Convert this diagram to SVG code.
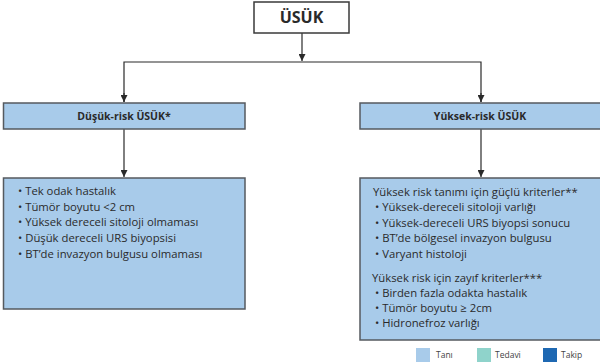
<svg xmlns="http://www.w3.org/2000/svg" width="600" height="364" viewBox="0 0 600 364">
<style>
.box{fill:#a8cbea;stroke:#555a5f;stroke-width:1.5}
.top{fill:#fff;stroke:#3a3a3a;stroke-width:1.5}
.t{font-family:"Open Sans","Liberation Sans",sans-serif;font-size:11.3px;fill:#2a2a2a}
.h{font-family:"Open Sans","Liberation Sans",sans-serif;font-size:10.5px;font-weight:bold;fill:#2a2a2a;text-anchor:middle}
.lg{font-family:"Open Sans","Liberation Sans",sans-serif;font-size:8.5px;fill:#444}
.c{fill:none;stroke:#2a2a2a;stroke-width:1.2}
</style>
<defs>
<marker id="ar" viewBox="0 0 10 10" refX="10" refY="5" markerWidth="7" markerHeight="7" markerUnits="userSpaceOnUse" orient="auto">
<path d="M0,0 L10,5 L0,10 z" fill="#2a2a2a"/>
</marker>
</defs>
<g id="connectors">
<line class="c" x1="302" y1="33" x2="302" y2="61" marker-end="url(#ar)"/>
<polyline class="c" points="124,102 124,62 481,62 481,102" fill="none"/>
<line class="c" x1="124" y1="93" x2="124" y2="102" marker-end="url(#ar)"/>
<line class="c" x1="481" y1="93" x2="481" y2="102" marker-end="url(#ar)"/>
<line class="c" x1="124" y1="129" x2="124" y2="177" marker-end="url(#ar)"/>
<line class="c" x1="481" y1="129" x2="481" y2="177" marker-end="url(#ar)"/>
</g>
<g id="usuk">
<rect class="top" x="254" y="2" width="95" height="31"/>
<text class="h" x="301.5" y="23" style="font-size:16px">ÜSÜK</text>
</g>
<g id="dusuk-risk">
<rect class="box" x="3.5" y="103" width="241.5" height="26"/>
<text class="h" x="124" y="120">Düşük-risk ÜSÜK*</text>
</g>
<g id="yuksek-risk">
<rect class="box" x="360" y="103" width="242" height="26"/>
<text class="h" x="480" y="120">Yüksek-risk ÜSÜK</text>
</g>
<g id="dusuk-kriter">
<rect class="box" x="3.5" y="178" width="241.5" height="131"/>
<text class="t" x="18" y="195">• Tek odak hastalık</text>
<text class="t" x="18" y="210.7">• Tümör boyutu &lt;2 cm</text>
<text class="t" x="18" y="226.3">• Yüksek dereceli sitoloji olmaması</text>
<text class="t" x="18" y="242">• Düşük dereceli URS biyopsisi</text>
<text class="t" x="18" y="257.5">• BT’de invazyon bulgusu olmaması</text>
</g>
<g id="yuksek-kriter">
<rect class="box" x="360" y="178" width="242" height="162"/>
<text class="t" x="373" y="196">Yüksek risk tanımı için güçlü kriterler**</text>
<text class="t" x="375" y="211">• Yüksek-dereceli sitoloji varlığı</text>
<text class="t" x="375" y="226.5">• Yüksek-dereceli URS biyopsi sonucu</text>
<text class="t" x="375" y="242">• BT’de bölgesel invazyon bulgusu</text>
<text class="t" x="375" y="257.5">• Varyant histoloji</text>
<text class="t" x="372" y="281.5">Yüksek risk için zayıf kriterler***</text>
<text class="t" x="375" y="297">• Birden fazla odakta hastalık</text>
<text class="t" x="375" y="312">• Tümör boyutu ≥ 2cm</text>
<text class="t" x="375" y="327">• Hidronefroz varlığı</text>
</g>
<g id="legend">
<rect x="416" y="348" width="14" height="14" fill="#a8cbea"/>
<text class="lg" x="436" y="358">Tanı</text>
<rect x="477" y="348" width="14" height="14" fill="#8fd3cb"/>
<text class="lg" x="495" y="358">Tedavi</text>
<rect x="543" y="348" width="14" height="14" fill="#1e68b2"/>
<text class="lg" x="561" y="358">Takip</text>
</g>
</svg>
